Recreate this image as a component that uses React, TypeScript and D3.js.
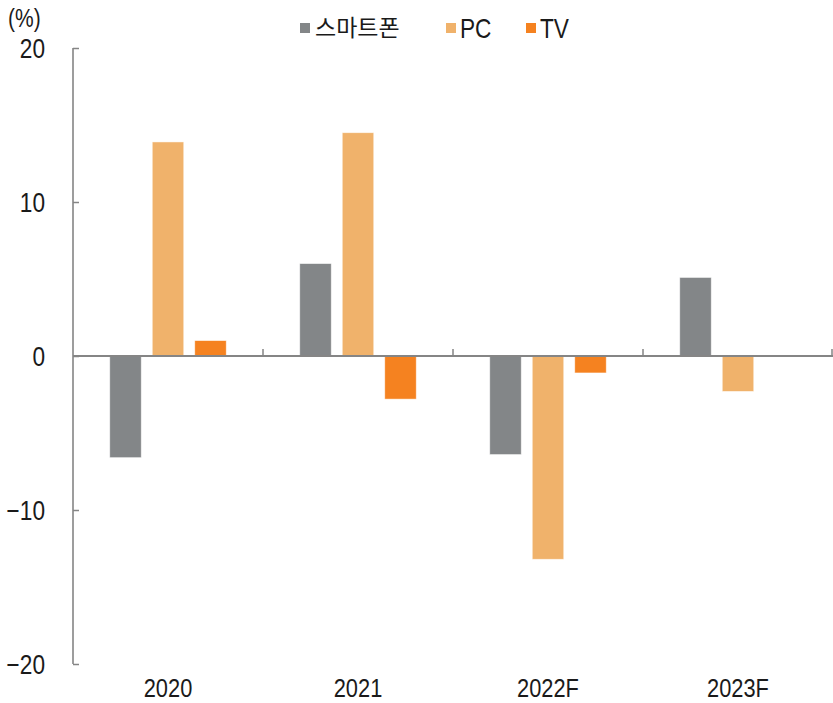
import { useCallback } from "react";
import * as d3 from "d3";

const categories = ["2020", "2021", "2022F", "2023F"];
const seriesNames = ["스마트폰", "PC", "TV"];
const smartphone = [-6.6, 6.0, -6.4, 5.1];
const pc = [13.9, 14.5, -13.2, -2.3];
const tv = [1.0, -2.8, -1.1, 0];
const yTicks = [-20, -10, 0, 10, 20];
const colors = ["#838688", "#F0B26B", "#F58220"];

const width = 833;
const height = 703;

const App = () => {
  const draw = useCallback((node: HTMLDivElement | null) => {
    if (node == null) return;
    const root = d3.select(node);
    root.selectAll("*").remove();

    const font = "'Liberation Sans', Arial, sans-serif";
    const squeeze = 0.84; // the source font is a narrow one
    const svg = root
      .append("svg")
      .attr("width", width)
      .attr("height", height)
      .attr("viewBox", [0, 0, width, height].join(" "))
      .style("position", "absolute")
      .style("left", "0px")
      .style("top", "0px")
      .style("font-family", font);

    const marginLeft = 73;
    const marginRight = 0;
    const marginTop = 48;
    const bottomY = 664;

    const x0 = d3.scaleBand<string>().domain(categories).range([marginLeft, width - marginRight]);
    const x1 = d3
      .scaleBand<string>()
      .domain(seriesNames)
      .range([0, x0.bandwidth()])
      .paddingInner(0.259)
      .paddingOuter(0.865);
    const y = d3.scaleLinear().domain([-20, 20]).range([bottomY, marginTop]);

    const values = [smartphone, pc, tv];
    const rows: { cat: string; s: string; v: number; i: number }[] = [];
    categories.forEach((cat, ci) => {
      seriesNames.forEach((s, si) => {
        rows.push({ cat, s, v: values[si][ci], i: si });
      });
    });

    // bars
    svg
      .append("g")
      .selectAll("rect")
      .data(rows.filter((d) => d.v !== 0))
      .join("rect")
      .attr("x", (d) => (x0(d.cat) as number) + (x1(d.s) as number))
      .attr("width", x1.bandwidth())
      .attr("y", (d) => y(Math.max(0, d.v)))
      .attr("height", (d) => Math.abs(y(d.v) - y(0)))
      .attr("fill", (d) => colors[d.i])
      .attr("stroke", "#ffffff")
      .attr("stroke-opacity", 0.6)
      .attr("stroke-width", 0.8);

    const axisColor = "#858585";

    // y axis
    const yAxis = d3.axisRight(y).tickValues(yTicks).tickSize(6).tickFormat(() => "");
    svg
      .append("g")
      .attr("transform", `translate(${marginLeft},0)`)
      .call(yAxis)
      .call((g) => g.select(".domain").remove())
      .call((g) => g.selectAll(".tick line").attr("stroke", axisColor).attr("stroke-width", 1.5));
    svg
      .append("line")
      .attr("x1", marginLeft)
      .attr("x2", marginLeft)
      .attr("y1", y(20))
      .attr("y2", y(-20))
      .attr("stroke", axisColor)
      .attr("stroke-width", 1.6);

    svg
      .append("g")
      .selectAll("text")
      .data(yTicks)
      .join("text")
      .attr("transform", (d) => `translate(45,${y(d)}) scale(${squeeze},1)`)
      .attr("dy", "0.36em")
      .attr("text-anchor", "end")
      .attr("font-size", 27)
      .attr("fill", "#1a1a1a")
      .text((d) => (d < 0 ? "\u2212" + Math.abs(d) : String(d)));

    svg
      .append("text")
      .attr("transform", `translate(8,27) scale(${squeeze},1)`)
      .attr("font-size", 25)
      .attr("fill", "#1a1a1a")
      .text("(%)");

    // zero axis with upward ticks at category boundaries
    const bounds = categories.map((c) => (x0(c) as number) + x0.bandwidth());
    svg
      .append("line")
      .attr("x1", marginLeft)
      .attr("x2", width)
      .attr("y1", y(0))
      .attr("y2", y(0))
      .attr("stroke", axisColor)
      .attr("stroke-width", 2);
    svg
      .append("g")
      .selectAll("line")
      .data(bounds)
      .join("line")
      .attr("x1", (d) => Math.min(d, width - 1))
      .attr("x2", (d) => Math.min(d, width - 1))
      .attr("y1", y(0))
      .attr("y2", y(0) - 7)
      .attr("stroke", axisColor)
      .attr("stroke-width", 1.5);

    // category labels
    svg
      .append("g")
      .selectAll("text")
      .data(categories)
      .join("text")
      .attr("transform", (d) => `translate(${(x0(d) as number) + x0.bandwidth() / 2},697) scale(${squeeze},1)`)
      .attr("text-anchor", "middle")
      .attr("font-size", 26)
      .attr("fill", "#1a1a1a")
      .text((d) => d);

    // legend
    const legendX = [300, 446, 526];
    const legend = svg
      .append("g")
      .selectAll("g")
      .data(seriesNames)
      .join("g")
      .attr("transform", (d, i) => `translate(${legendX[i]},23)`);
    legend
      .append("rect")
      .attr("width", 10)
      .attr("height", 10)
      .attr("fill", (d, i) => colors[i]);
    legend
      .append("text")
      .attr("transform", (d) => (d === "스마트폰" ? "translate(15,5)" : `translate(14,5) scale(${squeeze},1)`))
      .attr("dy", "0.36em")
      .attr("fill", "#1a1a1a")
      .style("font-family", (d) => (d === "스마트폰" ? "'Noto Sans CJK KR', sans-serif" : font))
      .attr("font-size", (d) => (d === "스마트폰" ? 23 : 27))
      .text((d) => d);
  }, []);

  return <div ref={draw}></div>;
};

export default App;
